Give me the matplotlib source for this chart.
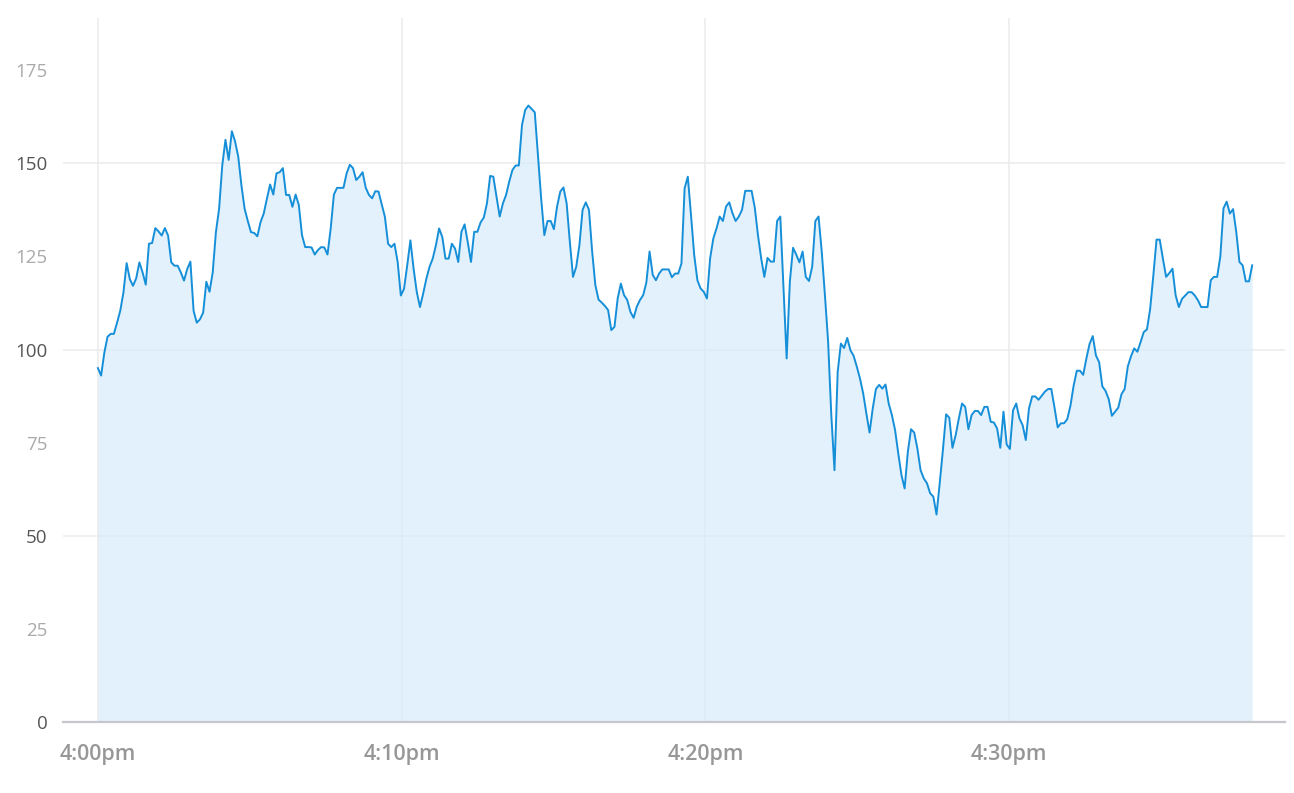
import numpy as np
import matplotlib.pyplot as plt

# valores, 4:00pm -> 4:38pm (muestreo regular)
values = [
    95.0, 93.0, 99.1, 103.4, 104.2, 104.2, 107.2, 110.4, 115.3, 123.2,
    118.9, 117.1, 119.1, 123.4, 120.7, 117.4, 128.4, 128.6, 132.6, 131.7,
    130.6, 132.6, 130.6, 123.4, 122.5, 122.5, 120.7, 118.5, 121.6, 123.6,
    110.4, 107.2, 108.1, 109.9, 118.2, 115.5, 120.7, 131.5, 137.8, 149.5,
    156.3, 150.9, 158.6, 155.9, 151.8, 144.1, 137.8, 134.5, 131.5, 131.3,
    130.4, 134.2, 136.5, 140.5, 144.3, 141.6, 147.3, 147.6,
    148.7, 141.5, 141.5, 138.3, 141.6, 138.8, 130.7, 127.5, 127.5, 127.4,
    125.5, 126.7, 127.5, 127.4, 125.5, 132.5, 141.6, 143.4, 143.4, 143.4,
    147.3, 149.6, 148.7, 145.5, 146.4, 147.6, 143.4, 141.5, 140.6, 142.5,
    142.4, 139.0, 135.6, 128.4, 127.5, 128.4, 123.5, 114.5, 116.3, 122.6,
    129.3, 121.7, 115.4, 111.4, 115.0, 119.0, 122.2, 124.4, 128.0, 132.5,
    130.2, 124.4, 124.4, 128.4, 127.1, 123.5, 131.6, 133.6, 128.7, 123.5,
    131.6, 131.6, 134.1, 135.4,
    139.2, 146.6, 146.4, 141.0, 135.7, 139.2, 141.5, 145.1, 148.2, 149.4,
    149.4, 160.3, 164.3, 165.5, 164.6, 163.7, 152.2, 140.6, 130.7, 134.5,
    134.5, 132.3, 138.4, 142.4, 143.5, 139.2, 128.9, 119.5, 122.2, 128.0,
    137.5, 139.5, 137.5, 126.3, 117.3, 113.4, 112.6, 111.7, 110.6, 105.2,
    106.1, 113.7, 117.7, 114.6, 113.3, 110.1, 108.5, 111.5, 113.3, 114.6,
    118.0, 126.3, 120.0, 118.6, 120.4, 121.5, 121.5, 121.5, 119.4, 120.4,
    120.4, 123.1, 143.3, 146.4,
    136.1, 125.4, 118.6, 116.4, 115.5, 113.7, 124.5, 129.8, 132.5, 135.7,
    134.5, 138.4, 139.5, 136.6, 134.5, 135.7, 137.5, 142.6, 142.6, 142.6,
    138.1, 130.7, 124.5, 119.5, 124.6, 123.6, 123.6, 134.5, 135.7, 116.4,
    97.6, 118.2, 127.3, 125.5, 123.4, 126.3, 119.5, 118.4, 122.2, 134.5,
    135.7, 126.3, 114.6, 102.1,
    82.4, 67.6, 94.0, 101.6, 100.4, 103.1, 99.8, 98.3, 95.4, 92.2,
    88.2, 82.8, 77.7, 84.2, 89.4, 90.5, 89.5, 90.6, 85.5, 82.4,
    78.4, 72.1, 66.3, 62.7, 72.5, 78.6, 77.7, 73.4, 67.6, 65.4,
    64.1, 61.4, 60.5, 55.7, 64.1, 73.0, 82.6, 81.7, 73.6, 77.0,
    81.5, 85.5, 84.6, 78.6, 82.4, 83.5, 83.5, 82.4, 84.6, 84.6,
    80.6, 80.4, 78.8, 73.6, 83.3, 74.5, 73.3, 83.7, 85.5, 81.5,
    79.7, 75.7, 84.2,
    87.4, 87.4, 86.5, 87.6, 88.7, 89.4, 89.4, 84.4, 79.1, 80.2,
    80.2, 81.3, 84.9, 90.3, 94.3, 94.3, 93.2, 97.6, 101.5, 103.6,
    98.4, 96.6, 90.1, 88.9, 86.7, 82.2, 83.3, 84.4, 88.0, 89.4,
    95.5, 98.2, 100.3, 99.4, 102.0, 104.7, 105.4, 110.9, 119.9, 129.5,
    129.5, 124.4, 119.5, 120.5, 121.7, 114.5, 111.4, 113.6, 114.5, 115.4,
    115.4, 114.5, 113.2, 111.4, 111.4, 111.4, 118.6, 119.5, 119.5, 124.9,
    137.9, 139.7, 136.5, 137.7, 131.6, 123.5, 122.6, 118.3, 118.3, 122.6,
]
start_min = 0
end_min = 38
x_ticks = [0, 10, 20, 30]
x_labels = ['4:00pm', '4:10pm', '4:20pm', '4:30pm']
y_ticks = [0, 25, 50, 75, 100, 125, 150, 175]
y_strong = [0, 50, 100, 150]
grid_y = [50, 100, 150]

minutes = np.linspace(start_min, end_min, len(values))

plt.rcParams['font.family'] = ['Open Sans', 'DejaVu Sans']

fig = plt.figure(figsize=(12.94, 7.93), dpi=100)
ax = fig.add_axes([63 / 1294, 1 - 722 / 793, (1285 - 63) / 1294, (722 - 18) / 793])

# rejilla
for gy in grid_y:
    ax.axhline(gy, color='#ececec', linewidth=1.2, zorder=0)
for gx in x_ticks:
    ax.axvline(gx, color='#ececec', linewidth=1.2, zorder=0)

ax.fill_between(minutes, 0, values, color='#d6ecfa', alpha=0.7, linewidth=0, zorder=1)
ax.plot(minutes, values, color='#168fd9', linewidth=1.4, zorder=3)

ax.set_xlim(-1.15, 39.08)
ax.set_ylim(0, 189)

for s in ['top', 'right', 'left']:
    ax.spines[s].set_visible(False)
ax.spines['bottom'].set_color('#c6c6cc')
ax.spines['bottom'].set_linewidth(1.6)
ax.spines['bottom'].set_zorder(4)

ax.set_xticks(x_ticks)
ax.set_xticklabels(x_labels, fontsize=15.5, fontweight='semibold', color='#979797')
ax.tick_params(axis='x', length=0, pad=16)

ax.set_yticks(y_ticks)
ax.set_yticklabels([str(v) for v in y_ticks], fontsize=13.5)
ax.tick_params(axis='y', length=0, pad=11)
for lab, v in zip(ax.get_yticklabels(), y_ticks):
    lab.set_color('#555555' if v in y_strong else '#aaaaaa')

fig.savefig('out.png', dpi=100)
